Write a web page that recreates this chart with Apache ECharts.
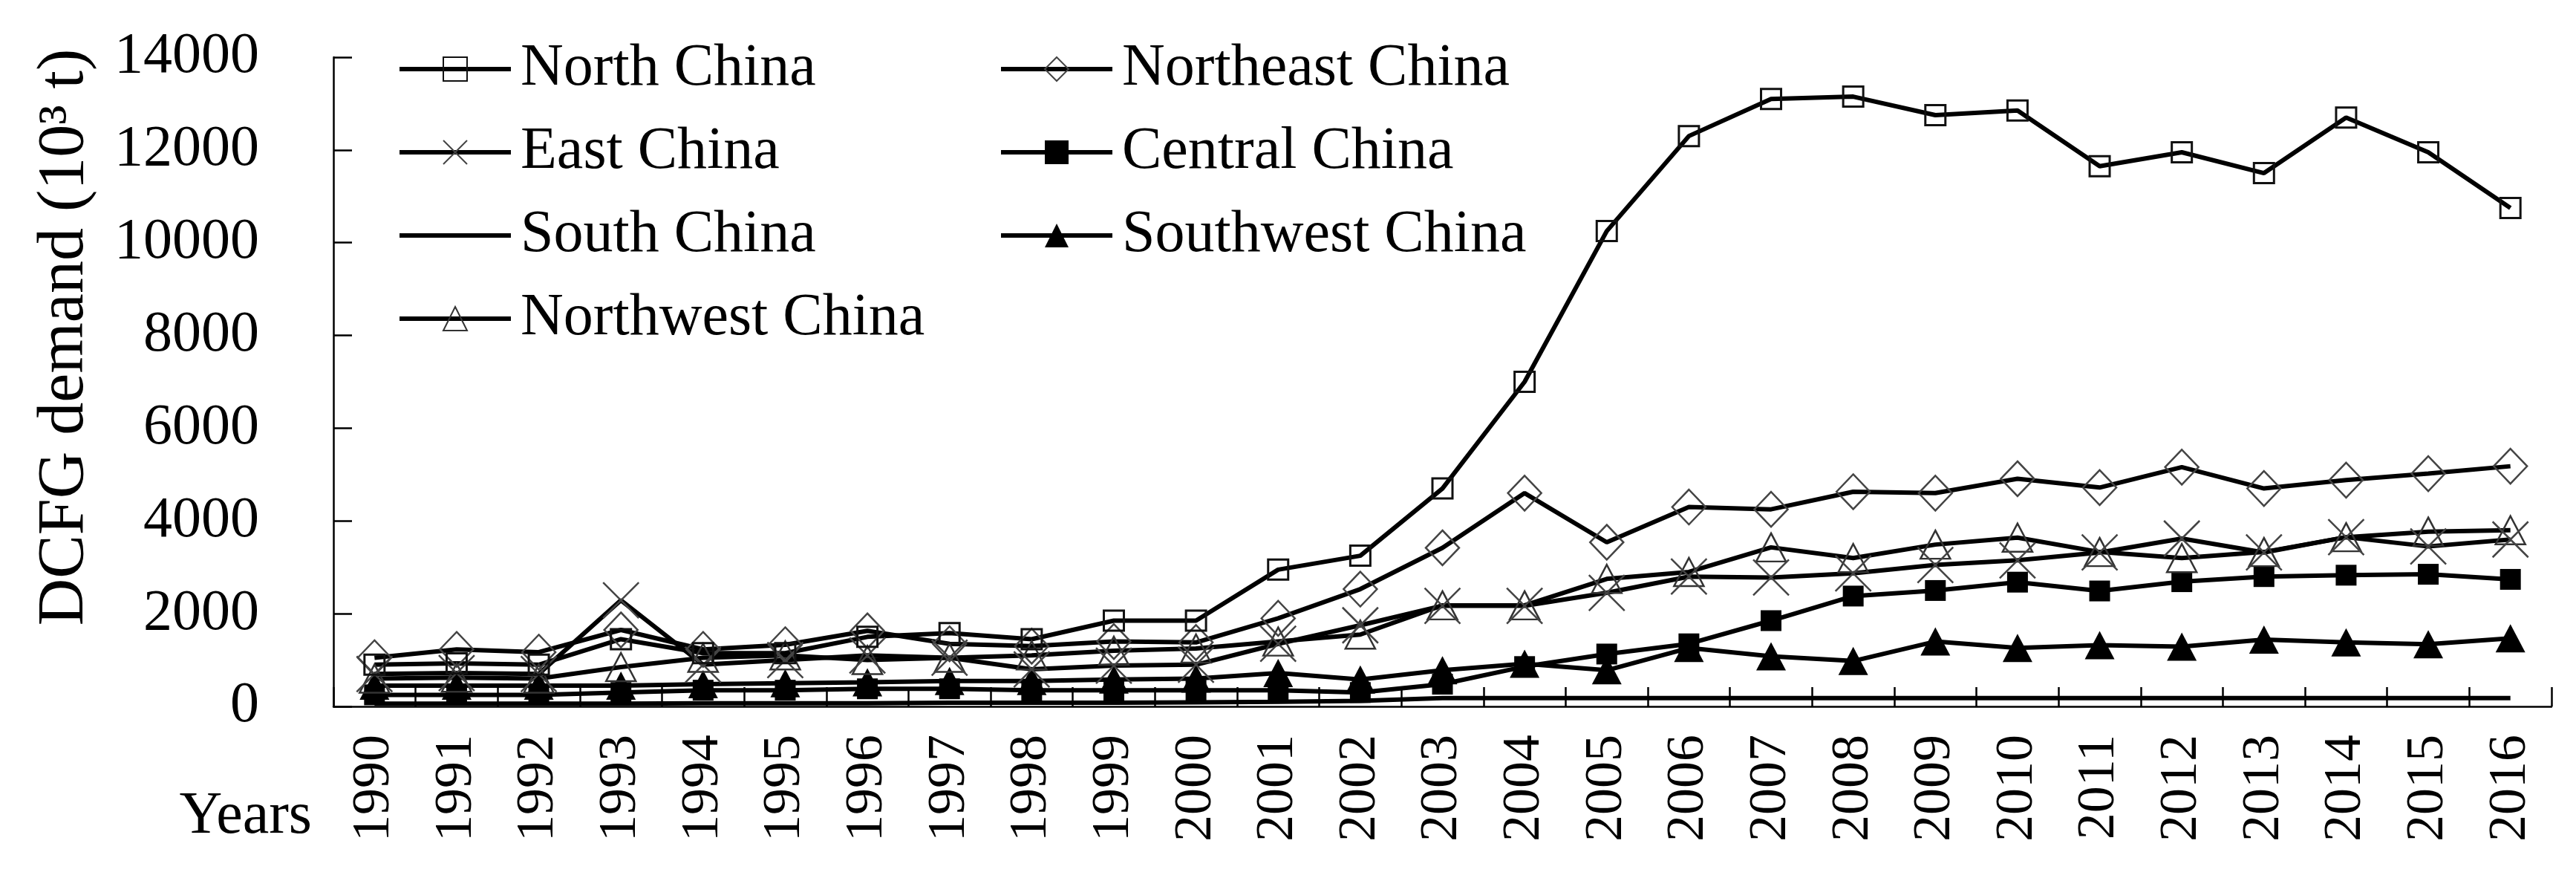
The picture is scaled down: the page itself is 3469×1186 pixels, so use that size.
<!DOCTYPE html>
<html><head><meta charset="utf-8">
<script src="https://cdn.jsdelivr.net/npm/echarts@6/dist/echarts.min.js"></script>
<style>html,body{margin:0;padding:0;background:#fff}#c{width:3469px;height:1186px}</style>
</head><body><div id="c"></div>
<script>
const years = ['1990','1991','1992','1993','1994','1995','1996','1997','1998','1999','2000','2001','2002','2003','2004','2005','2006','2007','2008','2009','2010','2011','2012','2013','2014','2015','2016'];
const yTicks = [0, 2000, 4000, 6000, 8000, 10000, 12000, 14000];
const northChina = [900, 930, 900, 1450, 1150, 1150, 1500, 1580, 1450, 1850, 1850, 2950, 3250, 4700, 7000, 10250, 12300, 13100, 13150, 12750, 12850, 11650, 11950, 11500, 12700, 11950, 10750];
const northeastChina = [1050, 1230, 1170, 1650, 1230, 1330, 1630, 1350, 1300, 1400, 1380, 1900, 2530, 3420, 4600, 3540, 4300, 4250, 4630, 4600, 4910, 4720, 5160, 4700, 4880, 5020, 5180];
const eastChina = [700, 720, 700, 2290, 900, 1000, 1100, 1050, 800, 880, 900, 1350, 1750, 2170, 2170, 2450, 2800, 2780, 2870, 3050, 3150, 3320, 3620, 3320, 3650, 3450, 3600];
const centralChina = [250, 250, 250, 300, 350, 350, 380, 380, 350, 350, 350, 350, 300, 480, 860, 1130, 1350, 1850, 2380, 2500, 2680, 2490, 2690, 2800, 2830, 2850, 2740];
const southChina = [60, 60, 60, 60, 70, 70, 70, 80, 80, 80, 90, 100, 120, 180, 180, 180, 180, 180, 180, 180, 180, 180, 180, 180, 180, 180, 180];
const southwestChina = [450, 450, 450, 450, 480, 500, 520, 550, 550, 580, 600, 720, 580, 780, 920, 780, 1260, 1080, 980, 1400, 1260, 1320, 1290, 1440, 1380, 1340, 1470];
const northwestChina = [600, 620, 600, 850, 1050, 1100, 1000, 1050, 1100, 1200, 1250, 1400, 1550, 2180, 2180, 2750, 2900, 3430, 3200, 3490, 3640, 3330, 3200, 3330, 3650, 3770, 3800];

const FONT = '"Liberation Serif", "Times New Roman", serif';
const chart = echarts.init(document.getElementById('c'), null, {renderer: 'canvas'});

function mk(name, data, symbol, size, fill, stroke, bw, show) {
  return {
    name: name, type: 'line', data: data,
    symbol: symbol, symbolSize: size, symbolKeepAspect: false,
    showSymbol: show,
    lineStyle: {color: '#000', width: 6},
    itemStyle: {color: fill, borderColor: stroke, borderWidth: bw},
    emphasis: {disabled: true},
    animation: false
  };
}
const XPATH = 'path://M0,0L10,10M10,0L0,10';

const legendText = {fontFamily: FONT, fontSize: 80, color: '#000', lineHeight: 80, padding: [0, 0, 0, 8]};
const legendLine = {width: 6, color: '#000'};

chart.setOption({
  backgroundColor: '#fff',
  animation: false,
  grid: {left: 449, right: 33, top: 77, bottom: 235, containLabel: false},
  legend: [
    {orient: 'vertical', left: 530, top: 48, itemWidth: 150, itemHeight: 40, itemGap: 32, selectedMode: false,
     lineStyle: legendLine,
     data: ['North China', 'East China',
            {name: 'South China', itemStyle: {color: 'rgba(0,0,0,0)', borderColor: 'rgba(0,0,0,0)', borderWidth: 0}},
            'Northwest China'],
     textStyle: legendText},
    {orient: 'vertical', left: 1340, top: 48, itemWidth: 150, itemHeight: 40, itemGap: 32, selectedMode: false,
     lineStyle: legendLine,
     data: ['Northeast China', 'Central China', 'Southwest China'], textStyle: legendText}
  ],
  xAxis: {
    type: 'category', data: years, boundaryGap: true,
    axisLine: {lineStyle: {color: '#000', width: 2.5}},
    axisTick: {show: true, inside: true, length: 26, lineStyle: {color: '#000', width: 2.5}},
    axisLabel: {rotate: 90, margin: 38, fontFamily: FONT, fontSize: 72, color: '#000', interval: 0},
    splitLine: {show: false}
  },
  yAxis: {
    type: 'value', min: yTicks[0], max: yTicks[yTicks.length - 1], interval: 2000,
    axisLine: {show: true, lineStyle: {color: '#000', width: 2.5}},
    axisTick: {show: true, inside: true, length: 25, lineStyle: {color: '#000', width: 2.5}},
    axisLabel: {margin: 100, fontFamily: FONT, fontSize: 78, color: '#000', formatter: function (v) { return String(v); }},
    splitLine: {show: false}
  },
  graphic: [
    {type: 'text', x: 420, y: 1100, style: {text: 'Years', font: '80px ' + FONT, fill: '#000', textAlign: 'right', textVerticalAlign: 'middle'}},
    {type: 'text', x: 88, y: 454, rotation: Math.PI / 2, style: {text: 'DCFG demand (10³ t)', font: '88px ' + FONT, fill: '#000', textAlign: 'center', textVerticalAlign: 'middle'}}
  ],
  series: [
    mk('South China', southChina, 'circle', 1, 'rgba(0,0,0,0)', 'rgba(0,0,0,0)', 0, false),
    mk('Central China', centralChina, 'rect', [28, 28], '#000', '#000', 0, true),
    mk('Southwest China', southwestChina, 'triangle', [40, 38], '#000', '#000', 0, true),
    mk('Northwest China', northwestChina, 'triangle', [40, 38], 'rgba(0,0,0,0)', '#333', 2.5, true),
    mk('East China', eastChina, XPATH, [48, 48], 'rgba(0,0,0,0)', '#444', 2.5, true),
    mk('Northeast China', northeastChina, 'diamond', [45, 47], 'rgba(0,0,0,0)', '#444', 2.5, true),
    mk('North China', northChina, 'rect', [27, 27], 'rgba(0,0,0,0)', '#111', 3, true)
  ]
});
</script></body></html>
